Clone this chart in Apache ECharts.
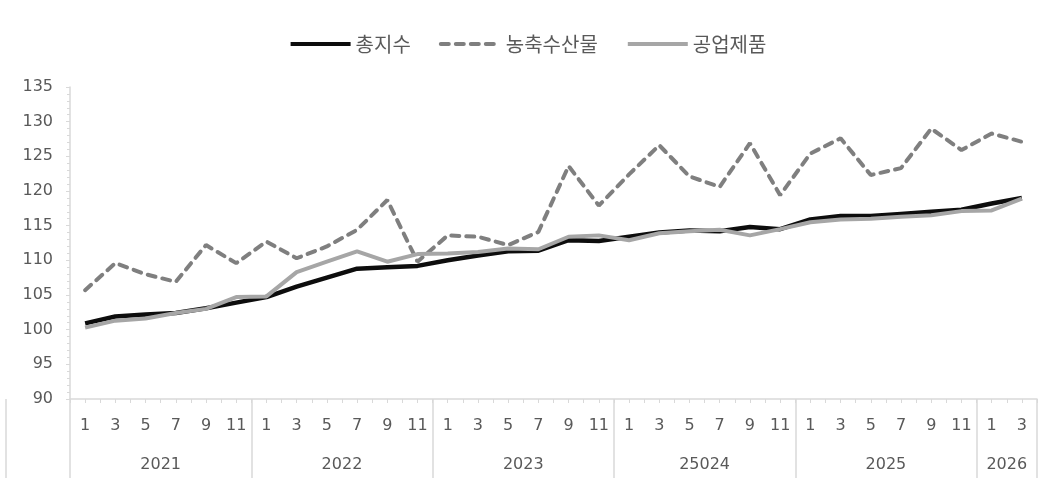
<!DOCTYPE html>
<html>
<head>
<meta charset="utf-8">
<script src="https://cdn.jsdelivr.net/npm/echarts@6/dist/echarts.min.js"></script>
<style>
  html, body { margin: 0; padding: 0; background: #fff; }
  #chart { width: 1055px; height: 485px; }
</style>
</head>
<body>
<div id="chart"></div>
<script>
// Index values, recorded every other month (Jan, Mar, May, Jul, Sep, Nov)
const years = [2021, 2022, 2023, 2024, 2025, 2026];
const yearLabels = ['2021', '2022', '2023', '25024', '2025', '2026'];
const monthsInYear = [12, 12, 12, 12, 12, 4];
const recordedMonths = [1, 3, 5, 7, 9, 11];

const totalIndex = [
  100.9, 101.9, 102.2, 102.4, 103.1, 103.9,
  104.7, 106.2, 107.5, 108.8, 109.0, 109.2,
  110.0, 110.7, 111.3, 111.4, 112.9, 112.8,
  113.4, 114.0, 114.3, 114.2, 114.8, 114.5,
  115.9, 116.4, 116.4, 116.7, 117.0, 117.3,
  118.2, 119.0
];
const agriIndex = [
  105.7, 109.6, 108.0, 106.9, 112.2, 109.6,
  112.7, 110.3, 112.0, 114.4, 118.7, 109.8,
  113.6, 113.4, 112.2, 114.1, 123.6, 117.9,
  122.4, 126.6, 122.1, 120.6, 126.9, 119.4,
  125.4, 127.6, 122.3, 123.3, 129.0, 125.9,
  128.3, 127.1
];
const industryIndex = [
  100.3, 101.3, 101.6, 102.4, 103.0, 104.7,
  104.8, 108.3, 109.8, 111.3, 109.8, 110.9,
  111.0, 111.2, 111.7, 111.6, 113.4, 113.6,
  112.9, 113.9, 114.2, 114.4, 113.6, 114.5,
  115.5, 115.9, 116.0, 116.3, 116.5, 117.1,
  117.2, 118.9
];

// Month slots along the axis: slot 0 is the leading edge, then one slot per month.
const slots = [''];
const yearBounds = [0];
years.forEach((y, yi) => {
  for (let m = 1; m <= monthsInYear[yi]; m++) slots.push(y + '-' + m);
  yearBounds.push(slots.length - 1);
});

// Spread recorded values onto the monthly slots; months without a value stay empty.
function toSlots(values) {
  const out = new Array(slots.length).fill(null);
  let k = 0;
  for (let i = 1; i < slots.length && k < values.length; i++) {
    const m = +slots[i].split('-')[1];
    if (recordedMonths.indexOf(m) >= 0) out[i] = values[k++];
  }
  return out;
}

const yearMid = {};
for (let i = 0; i < years.length; i++) {
  yearMid[(yearBounds[i] + yearBounds[i + 1]) / 2] = yearLabels[i];
}

const axisGray = '#d9d9d9';
const textGray = '#595959';
const numFont = 'DejaVu Sans';

const chart = echarts.init(document.getElementById('chart'));
chart.setOption({
  backgroundColor: '#fff',
  animation: false,
  legend: {
    top: 29,
    left: 'center',
    itemWidth: 60,
    itemHeight: 14,
    itemGap: 28,
    itemStyle: { opacity: 0 },
    lineStyle: { width: 4 },
    textStyle: { fontFamily: 'Noto Sans CJK KR', fontSize: 20, color: textGray },
    data: ['총지수', '농축수산물', '공업제품']
  },
  grid: { left: 70, right: 18, top: 87, bottom: 86, outerBoundsMode: 'none' },
  // outer edge line of the category label block
  graphic: [{
    type: 'line',
    shape: { x1: 6, y1: 399, x2: 6, y2: 478 },
    style: { stroke: axisGray, lineWidth: 1.5 },
    silent: true
  }],
  xAxis: [
    {
      type: 'category',
      data: slots,
      boundaryGap: false,
      axisLine: { lineStyle: { color: axisGray, width: 1.5 } },
      axisTick: { show: true, interval: 0, length: 4, lineStyle: { color: axisGray } },
      axisLabel: {
        interval: (idx, val) => {
          if (!val) return false;
          return recordedMonths.indexOf(+val.split('-')[1]) >= 0;
        },
        formatter: (val) => val ? String(+val.split('-')[1]) : '',
        margin: 19,
        fontFamily: numFont,
        fontSize: 16,
        color: textGray
      },
      splitLine: { show: false }
    },
    {
      type: 'category',
      data: slots,
      boundaryGap: false,
      position: 'bottom',
      axisLine: { show: false },
      axisTick: {
        show: true,
        interval: (idx) => yearBounds.indexOf(idx) >= 0,
        length: 79,
        lineStyle: { color: axisGray, width: 1.5 }
      },
      axisLabel: {
        interval: (idx) => yearMid[idx] !== undefined,
        formatter: (val, idx) => yearMid[idx] || '',
        margin: 58,
        fontFamily: numFont,
        fontSize: 16,
        color: textGray
      },
      splitLine: { show: false }
    }
  ],
  yAxis: {
    type: 'value',
    min: 90,
    max: 135,
    interval: 5,
    axisLine: { show: true, lineStyle: { color: axisGray, width: 1.5 } },
    axisTick: { show: true, length: 4, lineStyle: { color: axisGray } },
    minorTick: { show: true, splitNumber: 5, length: 3, lineStyle: { color: axisGray } },
    splitLine: { show: false },
    axisLabel: { margin: 17, fontFamily: numFont, fontSize: 16, color: textGray }
  },
  series: [
    {
      name: '총지수',
      type: 'line',
      data: toSlots(totalIndex),
      connectNulls: true,
      symbol: 'none',
      lineStyle: { color: '#0d0d0d', width: 4.5 },
      itemStyle: { color: '#0d0d0d' }
    },
    {
      name: '농축수산물',
      type: 'line',
      data: toSlots(agriIndex),
      connectNulls: true,
      symbol: 'none',
      lineStyle: { color: '#7f7f7f', width: 4, type: [8, 7], cap: 'round' },
      itemStyle: { color: '#7f7f7f' }
    },
    {
      name: '공업제품',
      type: 'line',
      data: toSlots(industryIndex),
      connectNulls: true,
      symbol: 'none',
      lineStyle: { color: '#a6a6a6', width: 4 },
      itemStyle: { color: '#a6a6a6' }
    }
  ]
});
</script>
</body>
</html>
